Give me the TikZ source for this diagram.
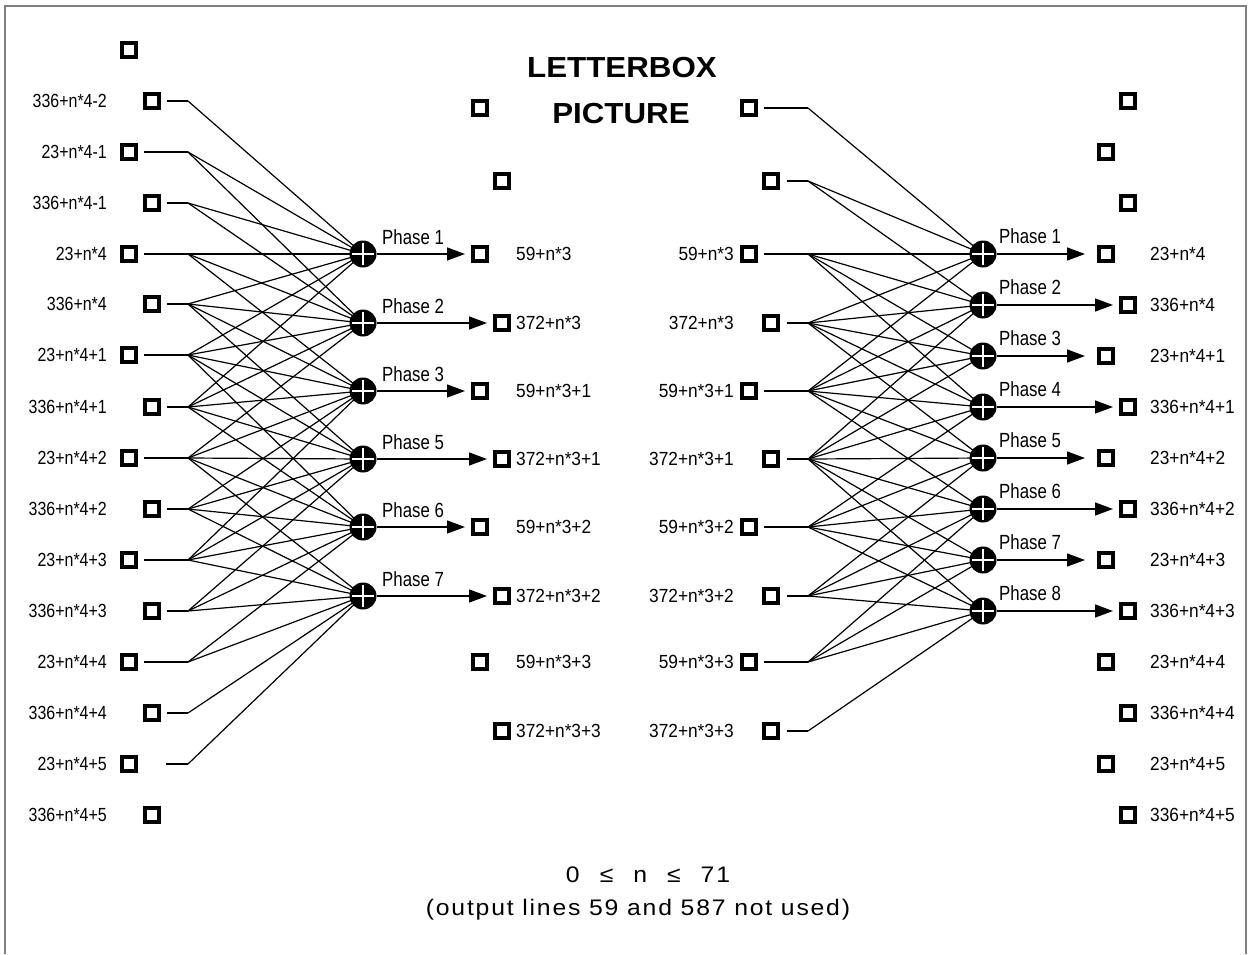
\documentclass[tikz,border=0pt]{standalone}
\usepackage{fontspec}
\setmainfont{Liberation Sans}
\newfontfamily\lfont[FakeStretch=0.84]{Liberation Sans}
\newfontfamily\rfont[FakeStretch=0.91]{Liberation Sans}
\newfontfamily\pfont[FakeStretch=0.82]{Liberation Sans}
\newfontfamily\tfont[FakeStretch=1.08]{Liberation Sans}
\newfontfamily\bfont[FakeStretch=1.1,LetterSpace=8]{Liberation Sans}
\usetikzlibrary{arrows.meta}
\begin{document}
\begin{tikzpicture}[x=1pt,y=-1pt,
  sq/.style={draw,line width=3.3pt,minimum size=13.8pt,inner sep=0pt,fill=white},
  adder/.style={circle,fill=black,minimum size=27pt,inner sep=0pt,
    path picture={\draw[white,line width=2pt]
      ([xshift=-11pt]path picture bounding box.center) -- ([xshift=11pt]path picture bounding box.center)
      ([yshift=-11pt]path picture bounding box.center) -- ([yshift=11pt]path picture bounding box.center);}},
  wire/.style={line width=1.2pt},
  outarrow/.style={line width=1.4pt,-{Triangle[length=18pt,width=13pt]}},
  llab/.style={font=\lfont\fontsize{19pt}{22pt}\selectfont,anchor=east,inner sep=0pt},
  rlab/.style={font=\rfont\fontsize{19pt}{22pt}\selectfont,inner sep=0pt},
  plab/.style={font=\pfont\fontsize{20.5pt}{24pt}\selectfont,anchor=base west,inner sep=0pt},
  ttl/.style={font=\tfont\bfseries\fontsize{29pt}{34pt}\selectfont,anchor=base,inner sep=0pt},
  btm/.style={font=\bfont\fontsize{22.5pt}{26pt}\selectfont,anchor=base,inner sep=0pt}]
\useasboundingbox (0,0) rectangle (1253,954);
\draw[gray,line width=1.6pt] (5,954) -- (5,6) -- (1246,6) -- (1246,954);

% title
\node[ttl] (t1) at (622,77) {LETTERBOX};
\node[ttl] (t2) at (621,123) {PICTURE};
\node[btm] (b1) at (648,882) {0\hspace{20pt}≤\hspace{20pt}n\hspace{20pt}≤\hspace{20pt}71};
\node[btm] (b2) at (638,915) {(output lines 59 and 587 not used)};

% ---------- left network ----------
\node[sq] (Ltop) at (129,50) {};
\node[sq] (Lend) at (152,815) {};
\node[llab] (Llend) at (107,815) {336+n*4+5};
\foreach \i/\x/\y/\s/\lab in {
  0/152/101/167/336+n*4-2, 1/129/152/144/23+n*4-1, 2/152/203/167/336+n*4-1,
  3/129/254/144/23+n*4, 4/152/304/167/336+n*4, 5/129/355/144/23+n*4+1,
  6/152/407/167/336+n*4+1, 7/129/458/144/23+n*4+2, 8/152/509/167/336+n*4+2,
  9/129/560/144/23+n*4+3, 10/152/611/167/336+n*4+3, 11/129/662/144/23+n*4+4,
  12/152/713/167/336+n*4+4, 13/129/764/166/23+n*4+5} {
  \node[sq] (Li\i) at (\x,\y) {};
  \node[llab] (Ll\i) at (107,\y) {\lab};
  \coordinate (Ls\i) at (\s,\y);
  \coordinate (Lf\i) at (188,\y);
  \draw[wire] (Ls\i) -- (Lf\i);
}
\foreach \p/\y in {1/254,2/323,3/391,5/459,6/527,7/596}
  \coordinate (LP\p) at (363,\y);
\foreach \i/\pl in {0/{1},1/{1,2},2/{1,2},3/{1,2,3},4/{1,2,3,5},5/{1,2,3,5,6},
  6/{1,2,3,5,6},7/{2,3,5,6,7},8/{3,5,6,7},9/{3,5,6,7},10/{5,6,7},
  11/{6,7},12/{7},13/{7}}
  \foreach \p in \pl \draw[wire] (Lf\i) -- (LP\p);
\foreach \p in {1,2,3,5,6,7} \node[adder] (LA\p) at (LP\p) {};

% left outputs
\node[sq] (Mo0) at (480,108) {};
\node[sq] (Mo1) at (502,181) {};
\foreach \k/\p/\x/\y/\tip/\lab in {
  2/1/480/254/465/59+n*3, 3/2/502/323/487/372+n*3, 4/3/480/391/465/59+n*3+1,
  5/5/502/459/487/372+n*3+1, 6/6/480/527/465/59+n*3+2, 7/7/502/596/487/372+n*3+2} {
  \node[sq] (Mo\k) at (\x,\y) {};
  \node[rlab,anchor=west] (Ml\k) at (516,\y) {\lab};
  \coordinate (Mt\k) at (\tip,\y);
  \draw[outarrow] (LA\p) -- (Mt\k);
  \node[plab] (Lph\p) at (382,\y-10) {Phase \p};
}
\node[sq] (Mo8) at (480,662) {};
\node[rlab,anchor=west] (Ml8) at (516,662) {59+n*3+3};
\node[sq] (Mo9) at (502,731) {};
\node[rlab,anchor=west] (Ml9) at (516,731) {372+n*3+3};

% ---------- right network ----------
\foreach \i/\x/\y/\s in {0/749/108/764, 1/771/181/787, 2/749/254/764, 3/771/323/787,
  4/749/391/764, 5/771/459/787, 6/749/527/764, 7/771/596/787, 8/749/662/764, 9/771/731/787} {
  \node[sq] (Ri\i) at (\x,\y) {};
  \coordinate (Rs\i) at (\s,\y);
  \coordinate (Rf\i) at (808,\y);
  \draw[wire] (Rs\i) -- (Rf\i);
}
\foreach \i/\y/\lab in {2/254/59+n*3, 3/323/372+n*3, 4/391/59+n*3+1, 5/459/372+n*3+1,
  6/527/59+n*3+2, 7/596/372+n*3+2, 8/662/59+n*3+3, 9/731/372+n*3+3}
  \node[rlab,anchor=east] (Rl\i) at (734,\y) {\lab};
\foreach \p/\y in {1/254,2/305,3/356,4/407,5/458,6/509,7/560,8/611}
  \coordinate (RP\p) at (983,\y);
\foreach \i/\pl in {0/{1},1/{1,2},2/{1,2,3,4},3/{1,2,3,4,5},4/{1,2,3,4,5,6},
  5/{2,3,4,5,6,7,8},6/{4,5,6,7,8},7/{5,6,7,8},8/{6,7,8},9/{8}}
  \foreach \p in \pl \draw[wire] (Rf\i) -- (RP\p);
\foreach \p in {1,...,8} \node[adder] (RA\p) at (RP\p) {};

% right outputs
\node[sq] (Ro0) at (1128,101) {};
\node[sq] (Ro1) at (1106,152) {};
\node[sq] (Ro2) at (1128,203) {};
\foreach \p/\x/\y/\tip/\lab in {
  1/1106/254/1085/23+n*4, 2/1128/305/1113/336+n*4, 3/1106/356/1085/23+n*4+1,
  4/1128/407/1113/336+n*4+1, 5/1106/458/1085/23+n*4+2, 6/1128/509/1113/336+n*4+2,
  7/1106/560/1085/23+n*4+3, 8/1128/611/1113/336+n*4+3} {
  \node[sq] (Rq\p) at (\x,\y) {};
  \node[rlab,anchor=west] (Rql\p) at (1150,\y) {\lab};
  \coordinate (Rt\p) at (\tip,\y);
  \draw[outarrow] (RA\p) -- (Rt\p);
  \node[plab] (Rph\p) at (999,\y-10.5) {Phase \p};
}
\foreach \k/\x/\y/\lab in {9/1106/662/23+n*4+4, 10/1128/713/336+n*4+4,
  11/1106/764/23+n*4+5, 12/1128/815/336+n*4+5} {
  \node[sq] (Rq\k) at (\x,\y) {};
  \node[rlab,anchor=west] (Rql\k) at (1150,\y) {\lab};
}
\end{tikzpicture}
\end{document}
